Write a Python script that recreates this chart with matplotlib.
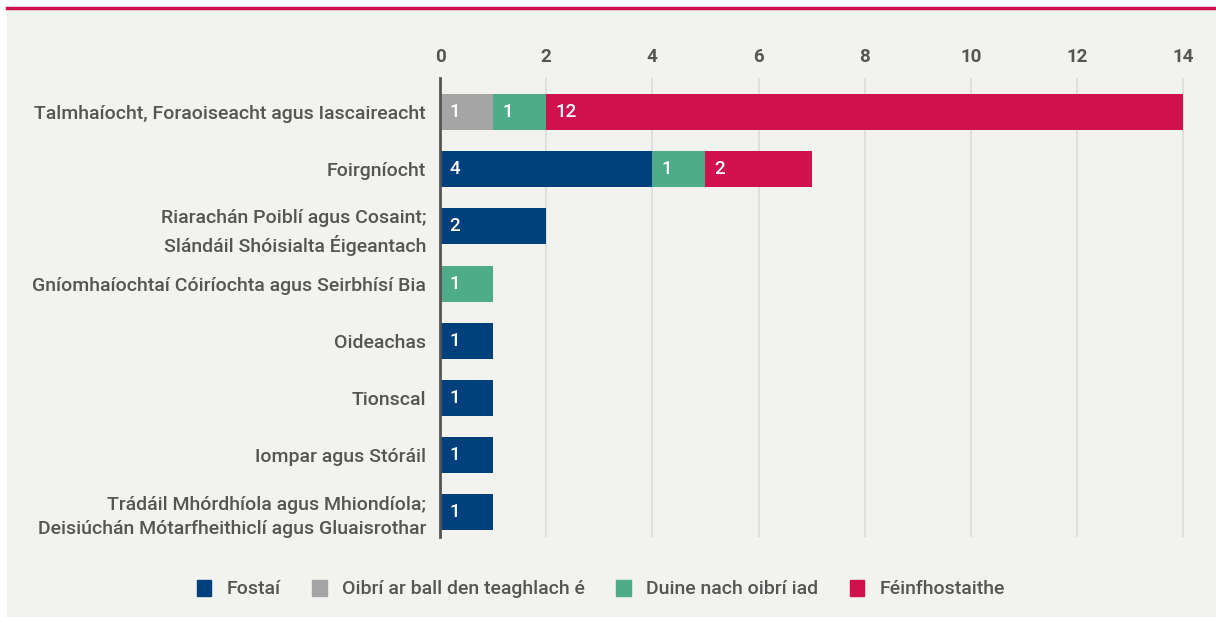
import numpy as np
import matplotlib.pyplot as plt
from matplotlib.patches import Rectangle
from matplotlib.lines import Line2D

plt.rcParams['font.family'] = ['Roboto', 'DejaVu Sans']

categories = [
    "Talmhaíocht, Foraoiseacht agus Iascaireacht",
    "Foirgníocht",
    "Riarachán Poiblí agus Cosaint;\nSlándáil Shóisialta Éigeantach",
    "Gníomhaíochtaí Cóiríochta agus Seirbhísí Bia",
    "Oideachas",
    "Tionscal",
    "Iompar agus Stóráil",
    "Trádáil Mhórdhíola agus Mhiondíola;\nDeisiúchán Mótarfheithiclí agus Gluaisrothar",
]
series_names = ["Fostaí", "Oibrí ar ball den teaghlach é", "Duine nach oibrí iad", "Féinfhostaithe"]
fostai = [0, 4, 2, 0, 1, 1, 1, 1]
oibri = [1, 0, 0, 0, 0, 0, 0, 0]
duine = [1, 1, 0, 1, 0, 0, 0, 0]
feinfhostaithe = [12, 2, 0, 0, 0, 0, 0, 0]
ticks = [0, 2, 4, 6, 8, 10, 12, 14]

colors = ["#00417d", "#a5a5a5", "#4fac8a", "#cf1150"]
bg = "#f2f2ee"
txt = "#555555"

fig = plt.figure(figsize=(12.16, 6.17), dpi=100)
fig.patch.set_facecolor("white")
# grey panel and red top rule
fig.patches.append(Rectangle((7 / 1216, 0), 1 - 7 / 1216, 1 - 10 / 617,
                             transform=fig.transFigure, facecolor=bg, edgecolor="none", zorder=-2))
fig.lines.append(Line2D([7 / 1216, 1], [1 - 8 / 617, 1 - 8 / 617], transform=fig.transFigure,
                        color="#cf1150", lw=2.5))

ax = fig.add_axes([440 / 1216, 1 - 537 / 617, (1186 - 440) / 1216, (537 - 78) / 617])
ax.set_facecolor(bg)

y = np.arange(len(categories))
data = [fostai, oibri, duine, feinfhostaithe]
left = np.zeros(len(categories))
for vals, name, c in zip(data, series_names, colors):
    vals = np.array(vals, dtype=float)
    ax.barh(y, vals, left=left, height=0.63, color=c, label=name, zorder=2)
    for yi, (l, v) in enumerate(zip(left, vals)):
        if v > 0:
            ax.text(l + 0.17, yi, f"{int(v)}", color="white", va="center", ha="left",
                    fontsize=13.5, fontweight="medium", zorder=3)
    left += vals

ax.set_xlim(0, 14.05)
ax.set_ylim(7.44, -0.6)
ax.set_xticks(ticks)
ax.xaxis.tick_top()
ax.tick_params(axis="x", length=0, pad=9, labelsize=13.5, labelcolor=txt)
for lb in ax.get_xticklabels():
    lb.set_fontweight("bold")
ax.set_yticks(y)
ax.set_yticklabels(categories, fontsize=14, color=txt, linespacing=1.45, fontweight="medium")
ax.tick_params(axis="y", length=0, pad=10)
ax.grid(axis="x", color="#dcdcdc", lw=1.2, zorder=0)
for s in ["top", "right", "bottom"]:
    ax.spines[s].set_visible(False)
ax.spines["left"].set_color("#555555")
ax.spines["left"].set_linewidth(2)
ax.spines["left"].set_zorder(4)

handles = [Rectangle((0, 0), 1, 1, color=c) for c in colors]
leg = fig.legend(handles, series_names, loc="center", bbox_to_anchor=(601 / 1216, 1 - 589 / 617),
                 ncol=4, frameon=False, fontsize=14, labelcolor=txt, handlelength=0.75,
                 handleheight=0.9, handletextpad=0.8, columnspacing=1.6)
for t in leg.get_texts():
    t.set_fontweight("medium")

fig.savefig("out.png", dpi=100, facecolor=fig.get_facecolor())
